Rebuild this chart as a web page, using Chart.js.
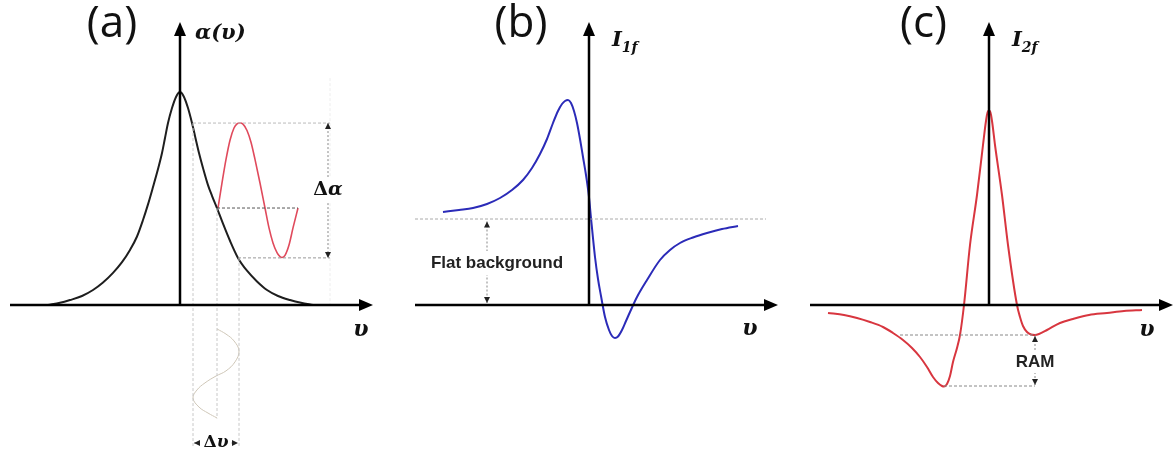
<!DOCTYPE html>
<html>
<head>
<meta charset="utf-8">
<script src="https://cdn.jsdelivr.net/npm/chart.js@4.4.1/dist/chart.umd.min.js"></script>
<style>
  html, body { margin: 0; padding: 0; background: #fff; }
  #wrap { position: relative; width: 1175px; height: 455px; background: #fff; overflow: hidden; }
  .panel { position: absolute; top: 0; height: 455px; }
  #panelA { left: 0; width: 390px; }
  #panelB { left: 390px; width: 400px; }
  #panelC { left: 790px; width: 385px; }
</style>
</head>
<body>
<div id="wrap">
  <div class="panel" id="panelA"><canvas id="chartA" width="390" height="455"></canvas></div>
  <div class="panel" id="panelB"><canvas id="chartB" width="400" height="455"></canvas></div>
  <div class="panel" id="panelC"><canvas id="chartC" width="385" height="455"></canvas></div>
</div>
<script>
// (a) absorption line alpha(v), frequency in arbitrary units
const absX = [-1.32, -1.20, -1.10, -0.98, -0.87, -0.77, -0.67, -0.58, -0.50, -0.43, -0.37, -0.32, -0.27, -0.22, -0.18, -0.15, -0.12, -0.08, -0.04, 0,
              0.04, 0.08, 0.12, 0.15, 0.19, 0.23, 0.28, 0.32, 0.37, 0.43, 0.50, 0.58, 0.67, 0.77, 0.87, 0.98, 1.10, 1.21, 1.33];
const absY = [0, 0.010, 0.023, 0.042, 0.07, 0.105, 0.15, 0.20, 0.257, 0.32, 0.397, 0.47, 0.551, 0.635, 0.71, 0.78, 0.85, 0.92, 0.972, 0.995,
              0.972, 0.92, 0.85, 0.79, 0.71, 0.64, 0.56, 0.51, 0.453, 0.38, 0.30, 0.22, 0.16, 0.11, 0.07, 0.042, 0.023, 0.010, 0];

// (a) modulated absorption (red)
const modX = [0.38, 0.42, 0.46, 0.50, 0.54, 0.57, 0.60, 0.63, 0.67, 0.71, 0.75, 0.80, 0.85, 0.89, 0.93, 0.97, 1.00, 1.02, 1.05, 1.09, 1.13, 1.18];
const modY = [0.453, 0.57, 0.68, 0.77, 0.827, 0.846, 0.850, 0.845, 0.815, 0.76, 0.68, 0.57, 0.453, 0.36, 0.29, 0.245, 0.226, 0.222, 0.232, 0.28, 0.36, 0.453];

// (a) frequency modulation drawn below the axis (grey)
const tuneX = [0.37, 0.46, 0.54, 0.59, 0.55, 0.46, 0.36, 0.25, 0.17, 0.13, 0.19, 0.28, 0.37];
const tuneY = [-0.112, -0.136, -0.168, -0.215, -0.266, -0.308, -0.332, -0.364, -0.397, -0.435, -0.477, -0.505, -0.528];

// (b) first harmonic I1f
const i1fX = [-1.46, -1.30, -1.16, -1.02, -0.89, -0.77, -0.66, -0.57, -0.49, -0.42, -0.36, -0.31, -0.27, -0.24, -0.21, -0.18, -0.15, -0.12, -0.09, -0.06, -0.03, 0.00,
              0.02, 0.06, 0.09, 0.12, 0.16, 0.20, 0.23, 0.26, 0.29, 0.33, 0.37, 0.41, 0.48, 0.58, 0.71, 0.81, 0.91, 1.04, 1.18, 1.33, 1.49];
const i1fY = [0.93, 0.95, 0.97, 1.01, 1.07, 1.15, 1.25, 1.37, 1.51, 1.66, 1.82, 1.94, 2.01, 2.04, 2.05, 2.02, 1.94, 1.82, 1.66, 1.48, 1.30, 1.08,
              0.87, 0.48, 0.26, 0.09, -0.12, -0.25, -0.31, -0.33, -0.315, -0.25, -0.16, -0.07, 0.08, 0.25, 0.45, 0.55, 0.62, 0.675, 0.72, 0.76, 0.79];
const flatLevel = 0.86;

// (c) second harmonic I2f
const i2fX = [-1.61, -1.45, -1.32, -1.19, -1.06, -0.96, -0.86, -0.77, -0.69, -0.62, -0.56, -0.51, -0.47, -0.45, -0.42, -0.39, -0.36, -0.32, -0.29, -0.25, -0.19, -0.12, -0.06, -0.03, -0.01,
              0.01, 0.03, 0.06, 0.13, 0.19, 0.28, 0.31, 0.34, 0.38, 0.42, 0.46, 0.50, 0.58, 0.71, 0.84, 1.00, 1.18, 1.35, 1.53];
const i2fY = [-0.08, -0.10, -0.13, -0.17, -0.22, -0.28, -0.35, -0.43, -0.52, -0.62, -0.72, -0.78, -0.81, -0.815, -0.79, -0.71, -0.57, -0.43, -0.30, 0, 0.60, 1.10, 1.60, 1.84, 1.94,
              1.94, 1.84, 1.60, 1.10, 0.60, 0, -0.12, -0.21, -0.27, -0.295, -0.30, -0.29, -0.25, -0.18, -0.14, -0.10, -0.08, -0.06, -0.05];

const panelLabels = ["(a)", "(b)", "(c)"];
const axisLabel = "υ";

const pts = (xs, ys) => xs.map((x, i) => ({ x: x, y: ys[i] }));

function curve(xs, ys, color, width, smooth) {
  const ds = {
    data: pts(xs, ys),
    showLine: true,
    borderColor: color,
    borderWidth: width,
    pointRadius: 0,
    fill: false
  };
  // x-monotonic curves use monotone cubic, the loop uses plain tension
  if (smooth === "monotone") ds.cubicInterpolationMode = "monotone";
  else ds.tension = smooth;
  return ds;
}

function guide(x1, y1, x2, y2, color) {
  return {
    data: [{ x: x1, y: y1 }, { x: x2, y: y2 }],
    showLine: true,
    borderColor: color,
    borderWidth: 1,
    borderDash: [3, 2],
    pointRadius: 0,
    tension: 0,
    fill: false
  };
}

function head(ctx, x, y, ang, len, half) {
  ctx.beginPath();
  ctx.moveTo(x, y);
  ctx.lineTo(x - len * Math.cos(ang) + half * Math.sin(ang), y - len * Math.sin(ang) - half * Math.cos(ang));
  ctx.lineTo(x - len * Math.cos(ang) - half * Math.sin(ang), y - len * Math.sin(ang) + half * Math.cos(ang));
  ctx.closePath();
  ctx.fill();
}

function drawRich(ctx, x, y, item) {
  let w = 0;
  item.parts.forEach(p => { ctx.font = p.font; p.w = ctx.measureText(p.t).width; w += p.w; });
  let sx = item.align === "left" ? x : x - w / 2;
  if (item.bg) {
    ctx.fillStyle = "#fff";
    ctx.fillRect(sx - 3, y - item.bg / 2, w + 6, item.bg);
  }
  ctx.textBaseline = item.baseline || "middle";
  ctx.textAlign = "left";
  ctx.fillStyle = item.color || "#111";
  item.parts.forEach(p => {
    ctx.font = p.font;
    ctx.fillText(p.t, sx, y + (p.dy || 0));
    sx += p.w;
  });
}

function drawDeco(chart, deco) {
  const ctx = chart.ctx;
  const px = v => chart.scales.x.getPixelForValue(v);
  const py = v => chart.scales.y.getPixelForValue(v);
  ctx.save();

  // dimension arrows (dotted line + small heads)
  deco.dims.forEach(d => {
    const x1 = px(d.x1), y1 = py(d.y1), x2 = px(d.x2), y2 = py(d.y2);
    ctx.strokeStyle = "#888";
    ctx.lineWidth = 1;
    ctx.setLineDash([2, 2]);
    ctx.beginPath();
    ctx.moveTo(x1, y1);
    ctx.lineTo(x2, y2);
    ctx.stroke();
    ctx.setLineDash([]);
    ctx.fillStyle = "#222";
    const ang = Math.atan2(y2 - y1, x2 - x1);
    head(ctx, x2, y2, ang, 6, 3);
    head(ctx, x1, y1, ang + Math.PI, 6, 3);
  });

  // axes with arrows
  const ox = px(0), oy = py(0);
  const xe = px(deco.axes.x1), ye = py(deco.axes.y1);
  ctx.strokeStyle = "#000";
  ctx.fillStyle = "#000";
  ctx.lineWidth = 2.5;
  ctx.beginPath();
  ctx.moveTo(px(deco.axes.x0), oy);
  ctx.lineTo(xe - 8, oy);
  ctx.moveTo(ox, oy);
  ctx.lineTo(ox, ye + 8);
  ctx.stroke();
  head(ctx, xe, oy, 0, 14, 6);
  head(ctx, ox, ye, -Math.PI / 2, 14, 6);

  // texts
  deco.texts.forEach(t => drawRich(ctx, px(t.x), py(t.y), t));
  ctx.restore();
}

function makePanel(id, xr, yr, datasets, deco) {
  return new Chart(document.getElementById(id), {
    type: "scatter",
    data: { datasets: datasets },
    options: {
      responsive: false,
      animation: false,
      events: [],
      layout: { padding: 0 },
      plugins: { legend: { display: false }, tooltip: { enabled: false } },
      scales: {
        x: { type: "linear", min: xr[0], max: xr[1], display: false },
        y: { type: "linear", min: yr[0], max: yr[1], display: false }
      }
    },
    plugins: [{ id: "deco" + id, afterDatasetsDraw(chart) { drawDeco(chart, deco); } }]
  });
}

const labelFont = "44px 'Open Sans'";
const mathFont = "bold italic 21px 'DejaVu Serif'";
const nuFont = "bold italic 22px 'DejaVu Serif'";
const noteFont = "'Liberation Sans', sans-serif";

// ---- panel (a)
makePanel("chartA", [-1.80, 2.10], [-0.701, 1.425], [
  guide(0.13, 0.85, 1.50, 0.85, "#bbb"),
  guide(0.58, 0.22, 1.50, 0.22, "#999"),
  guide(0.37, 0.453, 1.18, 0.453, "#555"),
  guide(0.13, 0.85, 0.13, -0.664, "#c8c8c8"),
  guide(0.37, 0.453, 0.37, -0.53, "#c8c8c8"),
  guide(0.59, 0.22, 0.59, -0.664, "#c8c8c8"),
  guide(1.50, 1.06, 1.50, 0.0, "#eee"),
  curve(tuneX, tuneY, "#cfc7b8", 1, 0.4),
  curve(absX, absY, "#1e1e1e", 2, "monotone"),
  curve(modX, modY, "#e04a5c", 1.6, "monotone")
], {
  axes: { x0: -1.70, x1: 1.93, y1: 1.322 },
  dims: [
    { x1: 1.48, y1: 0.85, x2: 1.48, y2: 0.22 },
    { x1: 0.14, y1: -0.645, x2: 0.58, y2: -0.645 }
  ],
  texts: [
    { x: -0.68, y: 1.252, baseline: "alphabetic", parts: [{ t: panelLabels[0], font: labelFont }] },
    { x: 0.15, y: 1.266, align: "left", parts: [{ t: "α(υ)", font: mathFont }] },
    { x: 1.81, y: -0.117, parts: [{ t: axisLabel, font: nuFont }] },
    { x: 1.48, y: 0.537, bg: 26, parts: [{ t: "Δ", font: "bold 19px 'DejaVu Serif'" }, { t: "α", font: "bold italic 19px 'DejaVu Serif'" }] },
    { x: 0.36, y: -0.645, bg: 20, parts: [{ t: "Δ", font: "bold 17px 'DejaVu Serif'" }, { t: "υ", font: "bold italic 17px 'DejaVu Serif'" }] }
  ]
});

// ---- panel (b)
makePanel("chartB", [-1.99, 2.01], [-1.50, 3.05], [
  guide(-1.74, flatLevel, 1.77, flatLevel, "#aaa"),
  curve(i1fX, i1fY, "#2b2bb8", 2, "monotone")
], {
  axes: { x0: -1.74, x1: 1.89, y1: 2.83 },
  dims: [
    { x1: -1.02, y1: 0.835, x2: -1.02, y2: 0.02 }
  ],
  texts: [
    { x: -0.68, y: 2.68, baseline: "alphabetic", parts: [{ t: panelLabels[1], font: labelFont }] },
    { x: 0.23, y: 2.64, align: "left", parts: [{ t: "I", font: mathFont }, { t: "1f", font: "bold italic 14px 'DejaVu Serif'", dy: 7 }] },
    { x: 1.61, y: -0.24, parts: [{ t: axisLabel, font: nuFont }] },
    { x: -0.92, y: 0.42, bg: 24, color: "#222", parts: [{ t: "Flat background", font: "bold 17px " + noteFont }] }
  ]
});

// ---- panel (c)
makePanel("chartC", [-1.99, 1.86], [-1.50, 3.05], [
  guide(-0.89, -0.30, 0.47, -0.30, "#888"),
  guide(-0.45, -0.81, 0.46, -0.81, "#888"),
  curve(i2fX, i2fY, "#d8363f", 2, "monotone")
], {
  axes: { x0: -1.79, x1: 1.84, y1: 2.83 },
  dims: [
    { x1: 0.46, y1: -0.31, x2: 0.46, y2: -0.80 }
  ],
  texts: [
    { x: -0.655, y: 2.68, baseline: "alphabetic", parts: [{ t: panelLabels[2], font: labelFont }] },
    { x: 0.23, y: 2.64, align: "left", parts: [{ t: "I", font: mathFont }, { t: "2f", font: "bold italic 14px 'DejaVu Serif'", dy: 7 }] },
    { x: 1.58, y: -0.25, parts: [{ t: axisLabel, font: nuFont }] },
    { x: 0.46, y: -0.57, bg: 22, color: "#222", parts: [{ t: "RAM", font: "bold 17px " + noteFont }] }
  ]
});
</script>
</body>
</html>
